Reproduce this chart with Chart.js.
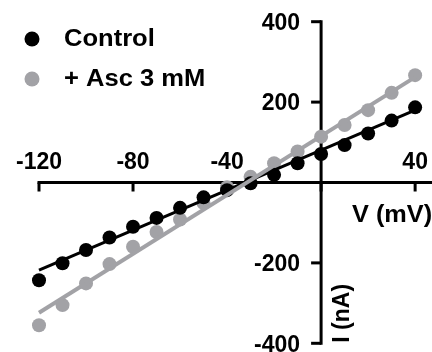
<!DOCTYPE html>
<html>
<head>
<meta charset="utf-8">
<script src="https://cdn.jsdelivr.net/npm/chart.js@4/dist/chart.umd.min.js"></script>
<style>
  html, body { margin: 0; padding: 0; background: #fff; }
  canvas { display: block; }
</style>
</head>
<body>
<canvas id="ivChart" width="432" height="352"></canvas>
<script>
// Data
const voltages = [-120, -110, -100, -90, -80, -70, -60, -50, -40, -30, -20, -10, 0, 10, 20, 30, 40];
const controlCurrent = [-243, -201, -168, -137, -110, -88, -63, -37, -19, -2, 19, 48, 71, 93, 122, 154, 187];
const ascCurrent = [-355, -305, -251, -203, -160, -123, -92, -51, -12, 14, 48, 77, 114, 143, 180, 223, 267];

// Fitted lines (end points)
const fitVoltages = [-120, 40];
const controlFit = [-218, 180];
const ascFit = [-324, 262];

const seriesNames = ["Control", "+ Asc 3 mM"];
const xTicks = [-120, -80, -40, 0, 40];
const xTickLabels = ["-120", "-80", "-40", "", "40"];
const yTicks = [-400, -200, 200, 400];
const yTickLabels = ["-400", "-200", "200", "400"];

const BLACK = "#000000";
const GRAY = "#a2a2a6";
const FONT = "bold 23px 'Liberation Sans', Arial, sans-serif";

function toPoints(xs, ys) {
  return xs.map((x, i) => ({ x: x, y: ys[i] }));
}

// Draws the crossing axes, tick labels, titles and the legend
const axesPlugin = {
  id: "crossAxes",
  beforeDatasetsDraw(chart) {
    const { ctx, scales } = chart;
    const xs = scales.x;
    const ys = scales.y;
    const x0 = xs.getPixelForValue(0);
    const y0 = ys.getPixelForValue(0);

    ctx.save();
    ctx.strokeStyle = BLACK;
    ctx.fillStyle = BLACK;
    ctx.lineWidth = 3;
    ctx.lineCap = "butt";

    // x axis
    ctx.beginPath();
    ctx.moveTo(xs.getPixelForValue(-120) - 1.5, y0);
    ctx.lineTo(chart.width, y0);
    ctx.stroke();
    xTicks.forEach((v) => {
      const px = xs.getPixelForValue(v);
      ctx.beginPath();
      ctx.moveTo(px, y0);
      ctx.lineTo(px, y0 + 9);
      ctx.stroke();
    });

    // y axis
    ctx.beginPath();
    ctx.moveTo(x0, ys.getPixelForValue(400) - 1.5);
    ctx.lineTo(x0, ys.getPixelForValue(-400) + 1.5);
    ctx.stroke();
    yTicks.forEach((v) => {
      const py = ys.getPixelForValue(v);
      ctx.beginPath();
      ctx.moveTo(x0 - 10, py);
      ctx.lineTo(x0, py);
      ctx.stroke();
    });

    ctx.font = FONT;

    // x tick labels (above the axis)
    ctx.textAlign = "center";
    ctx.textBaseline = "middle";
    xTicks.forEach((v, i) => {
      if (!xTickLabels[i]) return;
      ctx.fillText(xTickLabels[i], xs.getPixelForValue(v), y0 - 20);
    });

    // y tick labels
    ctx.textAlign = "right";
    yTicks.forEach((v, i) => {
      ctx.fillText(yTickLabels[i], x0 - 21, ys.getPixelForValue(v) + 2);
    });

    // axis titles
    ctx.save();
    ctx.translate(352, y0 + 33);
    ctx.scale(1.1, 1);
    ctx.textAlign = "left";
    ctx.fillText("V (mV)", 0, 0);
    ctx.restore();

    ctx.save();
    ctx.translate(x0 + 28, ys.getPixelForValue(-400) - 30);
    ctx.rotate(-Math.PI / 2);
    ctx.textAlign = "center";
    ctx.textBaseline = "alphabetic";
    ctx.fillText("I (nA)", 0, 0);
    ctx.restore();

    // legend
    const legendColors = [BLACK, GRAY];
    seriesNames.forEach((name, i) => {
      const cy = 39 + i * 40;
      ctx.fillStyle = legendColors[i];
      ctx.beginPath();
      ctx.arc(32, cy, 7.5, 0, Math.PI * 2);
      ctx.fill();
      ctx.fillStyle = BLACK;
      ctx.save();
      ctx.translate(64, cy);
      ctx.scale(1.11, 1);
      ctx.textAlign = "left";
      ctx.textBaseline = "middle";
      ctx.fillText(name, 0, 1);
      ctx.restore();
    });

    ctx.restore();
  },
};

const ctx = document.getElementById("ivChart").getContext("2d");

const ivChart = new Chart(ctx, {
  type: "scatter",
  data: {
    datasets: [
      {
        label: seriesNames[0],
        data: toPoints(voltages, controlCurrent),
        backgroundColor: BLACK,
        borderColor: BLACK,
        pointRadius: 7,
        pointHoverRadius: 7,
        borderWidth: 0,
        clip: false,
        order: 1,
      },
      {
        label: seriesNames[0] + " fit",
        data: toPoints(fitVoltages, controlFit),
        showLine: true,
        borderColor: BLACK,
        borderWidth: 3,
        pointRadius: 0,
        clip: false,
        order: 2,
      },
      {
        label: seriesNames[1],
        data: toPoints(voltages, ascCurrent),
        backgroundColor: GRAY,
        borderColor: GRAY,
        pointRadius: 7,
        pointHoverRadius: 7,
        borderWidth: 0,
        clip: false,
        order: 3,
      },
      {
        label: seriesNames[1] + " fit",
        data: toPoints(fitVoltages, ascFit),
        showLine: true,
        borderColor: GRAY,
        borderWidth: 4,
        pointRadius: 0,
        clip: false,
        order: 0,
      },
    ],
  },
  options: {
    responsive: false,
    animation: false,
    layout: {
      padding: { left: 39, right: 0, top: 21.7, bottom: 8.7 },
    },
    scales: {
      x: { type: "linear", display: false, min: -120, max: 44.2 },
      y: { type: "linear", display: false, min: -400, max: 400 },
    },
    plugins: {
      legend: { display: false },
      tooltip: { enabled: false },
    },
  },
  plugins: [axesPlugin],
});
</script>
</body>
</html>
